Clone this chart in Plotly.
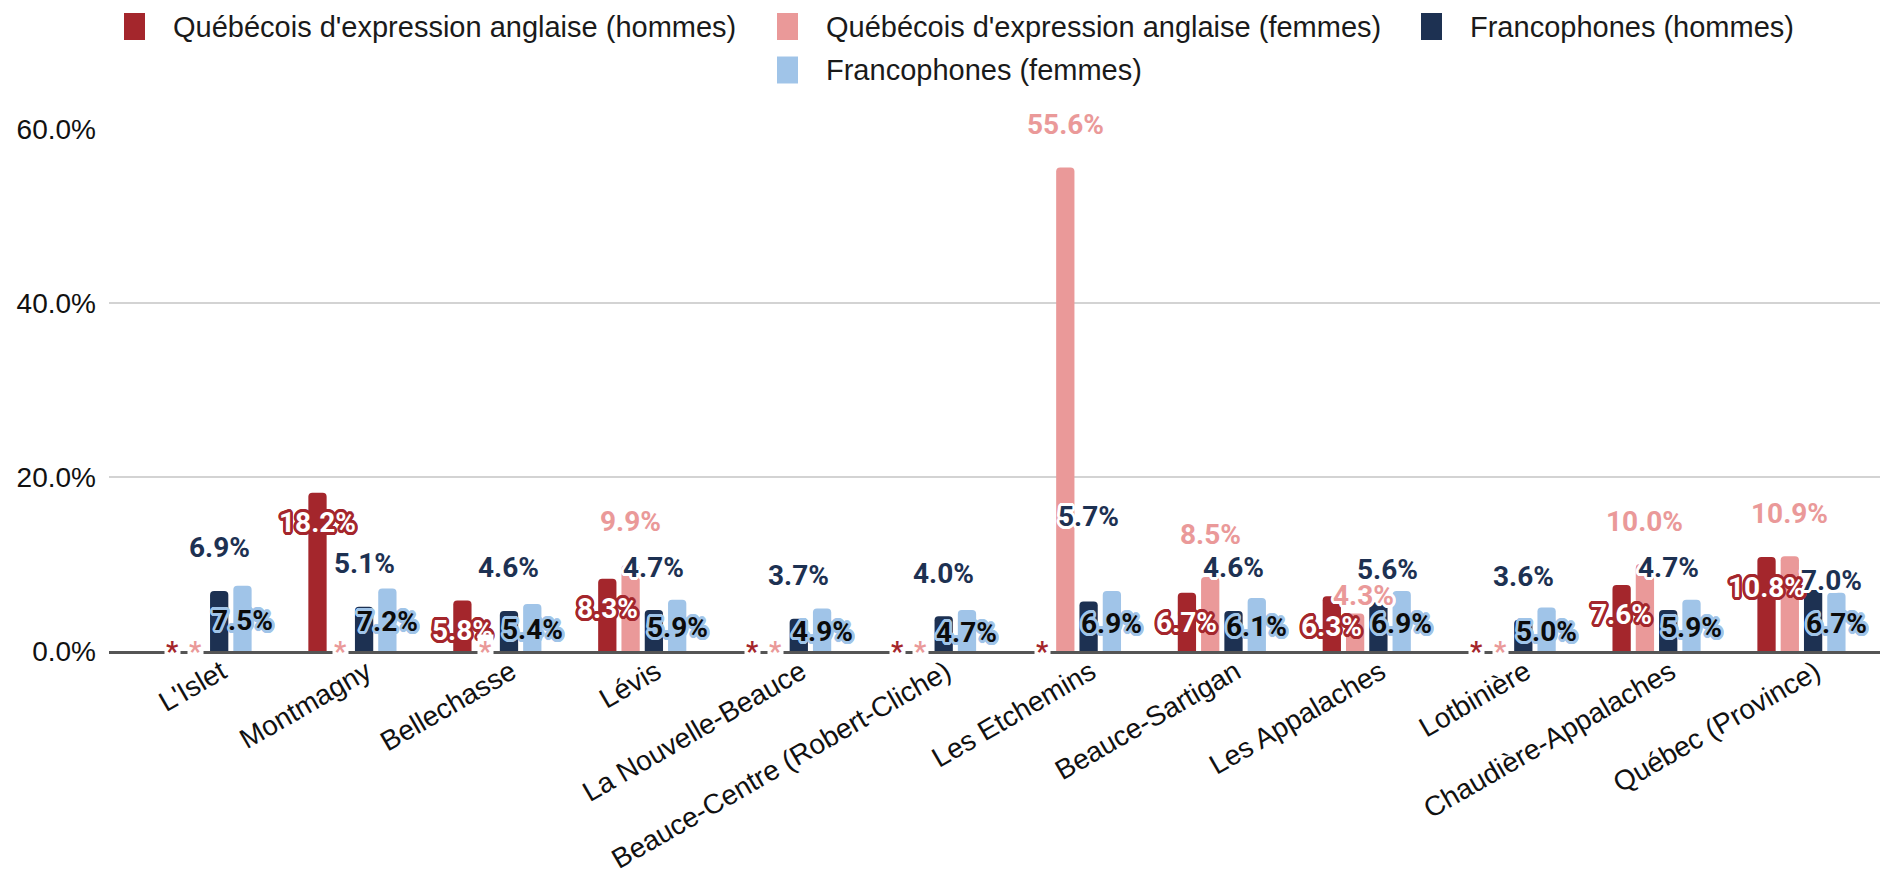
import math
import plotly.graph_objects as go

# Données : taux (%) par MRC, par groupe linguistique et sexe (None = donnée non disponible, marquée « * »)
CATEGORIES = [
    "L'Islet", "Montmagny", "Bellechasse", "Lévis", "La Nouvelle-Beauce",
    "Beauce-Centre (Robert-Cliche)", "Les Etchemins", "Beauce-Sartigan",
    "Les Appalaches", "Lotbinière", "Chaudière-Appalaches", "Québec (Province)",
]
ANGLO_HOMMES = [None, 18.2, 5.8, 8.3, None, None, None, 6.7, 6.3, None, 7.6, 10.8]
ANGLO_FEMMES = [None, None, None, 9.9, None, None, 55.6, 8.5, 4.3, None, 10.0, 10.9]
FRANCO_HOMMES = [6.9, 5.1, 4.6, 4.7, 3.7, 4.0, 5.7, 4.6, 5.6, 3.6, 4.7, 7.0]
FRANCO_FEMMES = [7.5, 7.2, 5.4, 5.9, 4.9, 4.7, 6.9, 6.1, 6.9, 5.0, 5.9, 6.7]
Y_TICKS = [0, 20, 40, 60]
Y_TICK_TEXT = ["0.0%", "20.0%", "40.0%", "60.0%"]

BARGAP = 0.357
BARGROUPGAP = 0.215
SLOT = (1 - BARGAP) / 4

TEXT_FONT = "Liberation Sans"
LABEL_FONT = "Roboto"

# page is drawn inside the default 8px body margin
W, H = 1872, 869
ML, MR, MT, MB = 101, 0, 121, 226


def halo(color, r=2.8, n=16):
    parts = []
    for i in range(n):
        a = 2 * math.pi * i / n
        parts.append(f"{color} {r * math.cos(a):.2f}px {r * math.sin(a):.2f}px 0")
    return ", ".join(parts)


# name, values, bar colour, label colour, halo colour, label placement
SERIES = [
    ("Québécois d'expression anglaise (hommes)", ANGLO_HOMMES, "#A4262C",
     "#FFFFFF", "#A4262C", "inside_top"),
    ("Québécois d'expression anglaise (femmes)", ANGLO_FEMMES, "#EA9999",
     "#EA9999", "#FFFFFF", "above"),
    ("Francophones (hommes)", FRANCO_HOMMES, "#1D3152",
     "#1D3152", "#FFFFFF", "above"),
    ("Francophones (femmes)", FRANCO_FEMMES, "#A0C4E8",
     "#0B0B0B", "#A0C4E8", "middle"),
]

# legend items: left edge of swatch and row centre, in figure pixels
LEGEND_POS = [(116, 18.5), (769, 18.5), (1413, 18.5), (769, 62)]

# label nudges (px) where labels were pushed apart in the original
NUDGE = {
    (2, 6): (0, 42),
    (2, 8): (9, -10),
    (1, 8): (8, -25),
    (2, 11): (18, -33),
}

PW, PH = W - ML - MR, H - MT - MB


def px_to_paper(x, y):
    return (x - ML) / PW, (H - MB - y) / PH


fig = go.Figure()
annotations = []
shapes = []

for k, (name, vals, color, lab_col, halo_col, place) in enumerate(SERIES):
    fig.add_trace(go.Bar(
        x=CATEGORIES, y=vals, name=name,
        marker={"color": color, "cornerradius": 4, "line": {"width": 0}},
        showlegend=False, hoverinfo="x+y",
    ))
    for i, v in enumerate(vals):
        xpos = i + (k - 1.5) * SLOT
        if v is None:
            annotations.append(dict(
                x=xpos, y=0, xref="x", yref="y", text="*", showarrow=False,
                font={"family": LABEL_FONT, "size": 27, "weight": 700, "color": color},
                bgcolor="#FFFFFF", borderpad=1, yshift=-1,
            ))
            continue
        if place == "inside_top":
            y, dy = v, -30
        elif place == "above":
            y, dy = v, 43
        else:
            y, dy = v / 2, -2
        ndx, ndy = NUDGE.get((k, i), (0, 0))
        annotations.append(dict(
            x=xpos, y=y, xref="x", yref="y", text=f"{v:.1f}%", showarrow=False,
            xshift=ndx, yshift=dy + ndy,
            font={"family": LABEL_FONT, "size": 28, "weight": 700, "color": lab_col,
                  "shadow": halo(halo_col)},
        ))

    # legend entry
    lx, ly = LEGEND_POS[k]
    x0, y0 = px_to_paper(lx, ly + 13.5)
    x1, y1 = px_to_paper(lx + 21, ly - 13.5)
    shapes.append(dict(
        type="rect", xref="paper", yref="paper", x0=x0, x1=x1, y0=y0, y1=y1,
        fillcolor=color, line={"width": 0}, layer="above",
    ))
    tx, ty = px_to_paper(lx + 47, ly)
    annotations.append(dict(
        x=tx, y=ty, xref="paper", yref="paper", text=name, showarrow=False,
        xanchor="left", yanchor="middle",
        font={"family": TEXT_FONT, "size": 29, "color": "#1A1A1A"},
    ))

fig.update_layout(
    width=W, height=H,
    margin={"l": ML, "r": MR, "t": MT, "b": MB, "autoexpand": False},
    paper_bgcolor="#FFFFFF", plot_bgcolor="#FFFFFF",
    barmode="group", bargap=BARGAP, bargroupgap=BARGROUPGAP,
    font={"family": TEXT_FONT, "size": 28, "color": "#1A1A1A"},
    annotations=annotations, shapes=shapes,
    showlegend=False,
)
fig.update_xaxes(
    type="category", range=[-0.68, 11.542], tickangle=-30,
    tickfont={"size": 28, "color": "#111111"}, ticklabelstandoff=-9, ticklabelshift=14,
    showgrid=False, showline=True, linecolor="#555555", linewidth=2.5,
    ticks="", zeroline=False,
)
fig.update_yaxes(
    range=[0, 60.02], tickvals=Y_TICKS, ticktext=Y_TICK_TEXT,
    gridcolor="#D3D3D3", gridwidth=2, zeroline=False, showline=False,
    ticks="", ticklabelstandoff=12, tickfont={"size": 28, "color": "#111111"},
)

fig.write_html("out.html")
